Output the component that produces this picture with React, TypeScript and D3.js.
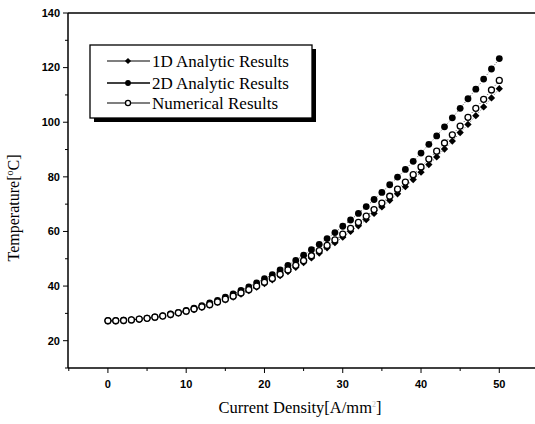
import React from "react";
import * as d3 from "d3";

// current density [A/mm^2]
const currentDensity = d3.range(0, 51);

const analytic1D = [
  27.3, 27.3, 27.4, 27.6, 27.8, 28.2, 28.5, 29.0, 29.5, 30.1,
  30.7, 31.4, 32.2, 33.0, 34.0, 35.0, 36.0, 37.1, 38.3, 39.6,
  40.9, 42.3, 43.8, 45.3, 46.9, 48.6, 50.3, 52.1, 54.0, 55.9,
  57.9, 60.0, 62.1, 64.3, 66.6, 69.0, 71.4, 73.8, 76.4, 79.0,
  81.7, 84.5, 87.3, 90.2, 93.1, 96.2, 99.2, 102.4, 105.6, 108.9,
  112.3,
];

const analytic2D = [
  27.3, 27.3, 27.5, 27.6, 27.9, 28.3, 28.7, 29.2, 29.8, 30.4,
  31.1, 31.9, 32.8, 33.8, 34.8, 35.9, 37.1, 38.4, 39.7, 41.2,
  42.7, 44.2, 45.9, 47.6, 49.4, 51.3, 53.3, 55.3, 57.4, 59.6,
  61.9, 64.2, 66.6, 69.1, 71.7, 74.3, 77.1, 79.9, 82.7, 85.7,
  88.7, 91.9, 95.0, 98.3, 101.6, 105.1, 108.6, 112.1, 115.8, 119.5,
  123.3,
];

const numerical = [
  27.3, 27.3, 27.4, 27.6, 27.9, 28.2, 28.6, 29.0, 29.6, 30.2,
  30.8, 31.6, 32.4, 33.2, 34.2, 35.2, 36.3, 37.5, 38.7, 40.0,
  41.4, 42.8, 44.3, 45.9, 47.6, 49.3, 51.1, 53.0, 54.9, 56.9,
  59.0, 61.1, 63.3, 65.6, 68.0, 70.4, 72.9, 75.5, 78.1, 80.8,
  83.6, 86.5, 89.4, 92.4, 95.4, 98.6, 101.8, 105.1, 108.4, 111.8,
  115.3,
];

const seriesNames = ["1D Analytic Results", "2D Analytic Results", "Numerical Results"];
const xTicks = [0, 10, 20, 30, 40, 50];
const yTicks = [20, 40, 60, 80, 100, 120, 140];

const W = 535;
const H = 424;
const plot = { left: 68, right: 540, top: 13, bottom: 368 };

const serif = "'Liberation Serif', 'Times New Roman', serif";
const sans = "'Liberation Sans', Arial, sans-serif";

export default function App() {
  const x = d3.scaleLinear().domain([-5.1, 55.2]).range([plot.left, plot.right]);
  const y = d3.scaleLinear().domain([10, 140]).range([plot.bottom, plot.top]);

  const line = (vals: number[]) =>
    d3.line<number>()
      .x((_, i) => x(currentDensity[i]))
      .y((d) => y(d))(vals) || "";

  const diamond = d3.symbol().type(d3.symbolDiamond2).size(34)() || "";

  const marker = (kind: number, cx: number, cy: number, key: string, scale = 1) => {
    if (kind === 0) {
      return (
        <path key={key} d={diamond} transform={`translate(${cx},${cy}) scale(${scale})`} fill="#000" />
      );
    }
    if (kind === 1) {
      return <circle key={key} cx={cx} cy={cy} r={3.4 * scale} fill="#000" />;
    }
    return (
      <circle key={key} cx={cx} cy={cy} r={3.0 * scale} fill="#fff" stroke="#000" strokeWidth={1.3} />
    );
  };

  const allSeries = [analytic1D, analytic2D, numerical];

  const yMinor = d3.range(10, 141, 10);
  const xMinor = d3.range(-5, 56, 5);

  const legend = { x: 90, y: 45, w: 222, h: 73 };
  const legendRows = [61, 83, 103];

  return (
    <svg width={W} height={H} style={{ position: "absolute", left: 0, top: 0, background: "#fff" }}>
      <rect width={W} height={H} fill="#fff" />

      {/* frame */}
      <line x1={plot.left} x2={plot.right} y1={plot.top} y2={plot.top} stroke="#000" strokeWidth={1.5} />
      <line x1={plot.left} x2={plot.right} y1={plot.bottom} y2={plot.bottom} stroke="#000" strokeWidth={1.5} />
      <line x1={plot.left} x2={plot.left} y1={plot.top} y2={plot.bottom} stroke="#000" strokeWidth={1.5} />

      {/* y ticks */}
      {yMinor.map((v) => (
        <line key={"ym" + v} x1={plot.left - (v % 20 === 0 ? 5 : 3)} x2={plot.left} y1={y(v)} y2={y(v)} stroke="#000" strokeWidth={1} />
      ))}
      {yTicks.map((v) => (
        <text key={"yt" + v} x={plot.left - 8} y={y(v)} dy="0.35em" textAnchor="end"
          fontFamily={sans} fontSize={11} fontWeight="bold">{v}</text>
      ))}

      {/* x ticks */}
      {xMinor.map((v) => (
        <line key={"xm" + v} x1={x(v)} x2={x(v)} y1={plot.bottom} y2={plot.bottom + (v % 10 === 0 ? 5 : 3)} stroke="#000" strokeWidth={1} />
      ))}
      {xTicks.map((v) => (
        <text key={"xt" + v} x={x(v)} y={plot.bottom + 20} textAnchor="middle"
          fontFamily={sans} fontSize={11} fontWeight="bold">{v}</text>
      ))}

      {/* axis titles */}
      <text x={300} y={413} textAnchor="middle" fontFamily={serif} fontSize={16.5}>
        Current Density[A/mm<tspan dy={-6} fontSize={8} fill="#bbb">2</tspan><tspan dy={6}>]</tspan>
      </text>
      <text transform={`translate(19,${208}) rotate(-90)`} textAnchor="middle" fontFamily={serif} fontSize={16}>
        Temperature[<tspan dy={-6} fontSize={10}>o</tspan><tspan dy={6}>C]</tspan>
      </text>

      {/* series lines */}
      {allSeries.map((vals, si) => (
        <path key={"l" + si} d={line(vals)} fill="none" stroke="#000" strokeWidth={0.7} strokeDasharray="1,2" />
      ))}
      {/* markers */}
      {allSeries.map((vals, si) => (
        <g key={"m" + si}>
          {vals.map((v, i) => marker(si, x(currentDensity[i]), y(v), `${si}-${i}`))}
        </g>
      ))}

      {/* legend */}
      <rect x={legend.x + 4} y={legend.y + 4} width={legend.w} height={legend.h} fill="#000" />
      <rect x={legend.x} y={legend.y} width={legend.w} height={legend.h} fill="#fff" stroke="#000" strokeWidth={1.3} />
      {seriesNames.map((name, i) => (
        <g key={"lg" + i}>
          <line x1={107} x2={150} y1={legendRows[i]} y2={legendRows[i]} stroke="#000" strokeWidth={i === 1 ? 1.5 : 1.1} />
          {marker(i, 128, legendRows[i], "lm" + i, 0.85)}
          <text x={152} y={legendRows[i]} dy="0.35em" fontFamily={serif} fontSize={17}>{name}</text>
        </g>
      ))}
    </svg>
  );
}
